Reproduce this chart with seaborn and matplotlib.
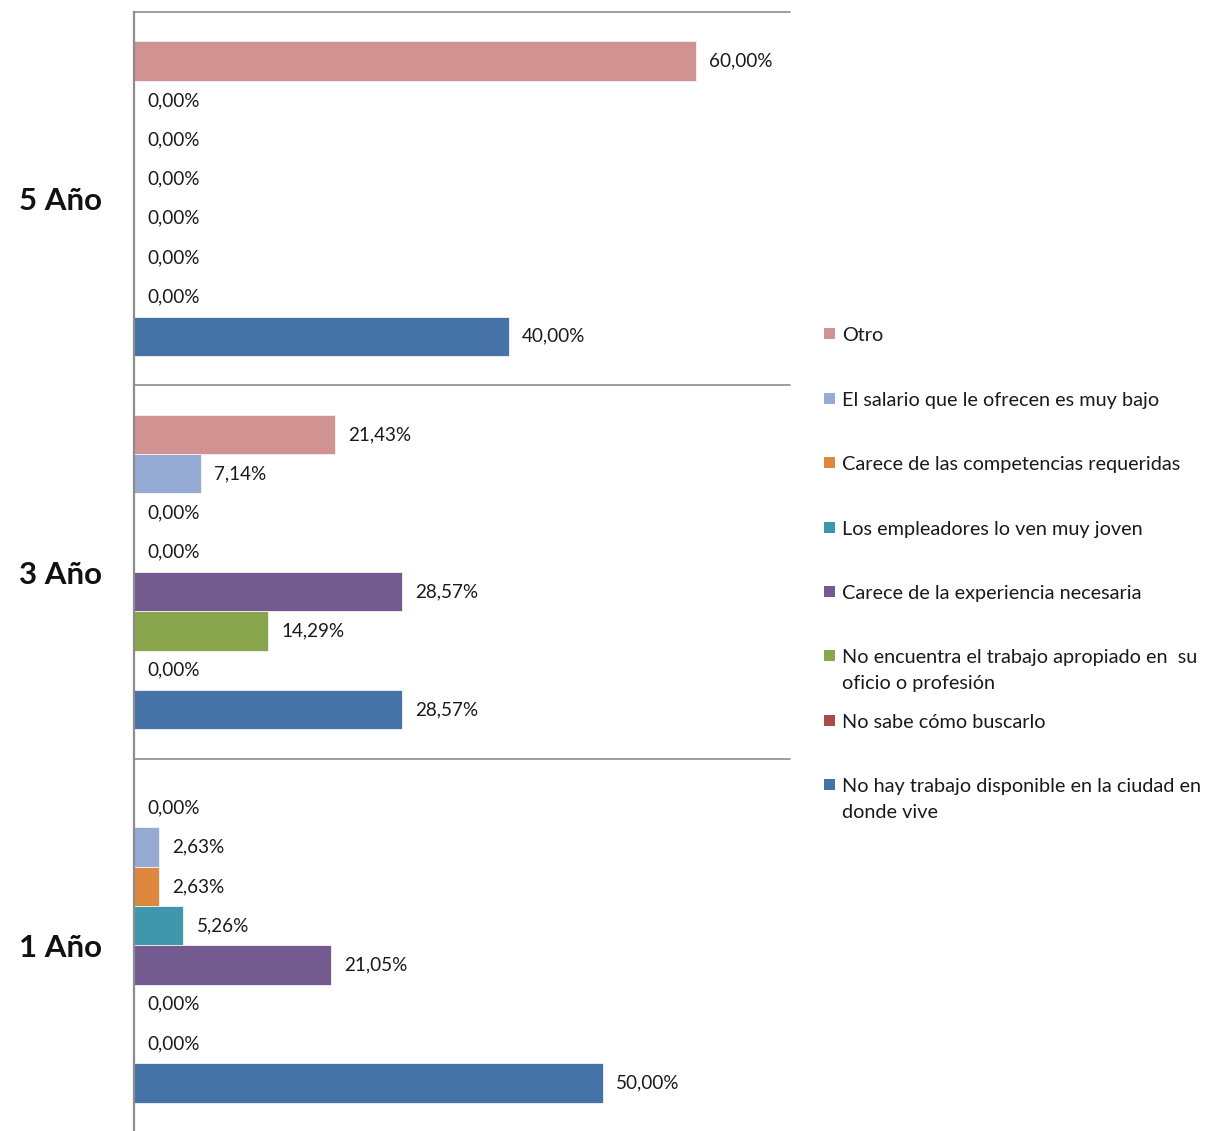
import matplotlib
matplotlib.use("Agg")
import matplotlib.pyplot as plt
import seaborn as sns
import pandas as pd
from matplotlib.patches import Rectangle

YEARS = ["5 Año", "3 Año", "1 Año"]
MOTIVOS = [
    "Otro",
    "El salario que le ofrecen es muy bajo",
    "Carece de las competencias requeridas",
    "Los empleadores lo ven muy joven",
    "Carece de la experiencia necesaria",
    "No encuentra el trabajo apropiado en  su\noficio o profesión",
    "No sabe cómo buscarlo",
    "No hay trabajo disponible en la ciudad en\ndonde vive",
]
COLORS = ["#D19392", "#95ABD3", "#DE873F", "#3F97AD",
          "#735A8F", "#89A54E", "#AC4A47", "#4673A7"]

# percentages per motivo, order follows YEARS
otro = [60.00, 21.43, 0.00]
salario = [0.00, 7.14, 2.63]
competencias = [0.00, 0.00, 2.63]
joven = [0.00, 0.00, 5.26]
experiencia = [0.00, 28.57, 21.05]
no_encuentra = [0.00, 14.29, 0.00]
no_sabe = [0.00, 0.00, 0.00]
no_hay = [40.00, 28.57, 50.00]

series = [otro, salario, competencias, joven, experiencia,
          no_encuentra, no_sabe, no_hay]

rows = []
for motivo, vals in zip(MOTIVOS, series):
    for year, v in zip(YEARS, vals):
        rows.append({"anio": year, "motivo": motivo, "valor": v})
df = pd.DataFrame(rows)

sns.set_style("white")
plt.rcParams["font.family"] = ["Lato", "DejaVu Sans"]

W, H = 1205, 1131
fig = plt.figure(figsize=(W / 100, H / 100), dpi=100)
ax = fig.add_axes([134 / W, -1 / H, (790 - 134) / W, 1120 / H])

sns.barplot(data=df, x="valor", y="anio", hue="motivo",
            order=YEARS, hue_order=MOTIVOS, palette=COLORS, saturation=1,
            orient="h", width=0.842, edgecolor="#f4f4f4", linewidth=0.6,
            legend=False, ax=ax)

ax.set_xlim(0, 70)
ax.set_ylim(2.5, -0.5)
ax.set_xlabel("")
ax.set_ylabel("")
ax.set_xticks([])

for cont, vals in zip(ax.containers, series):
    labels = [f"{v:.2f}".replace(".", ",") + "%" for v in vals]
    ax.bar_label(cont, labels=labels, padding=9.5, fontsize=13.6,
                 color="#1a1a1a")

grey = "#8c8c8c"
for b in [-0.5, 0.5, 1.5, 2.5]:
    ax.axhline(b, color=grey, lw=1.2, clip_on=False, zorder=0)

for s in ["top", "right", "bottom"]:
    ax.spines[s].set_visible(False)
ax.spines["left"].set_color(grey)
ax.spines["left"].set_linewidth(1.6)

ax.set_yticks(range(len(YEARS)))
ax.set_yticklabels(YEARS, fontsize=22.5, fontweight="bold", color="#111111")
ax.set_yticks([-0.5, 0.5, 1.5, 2.5], minor=True)
ax.tick_params(axis="y", which="major", length=0, pad=23)
ax.tick_params(axis="y", which="minor", length=7.5, width=1.2,
               color=grey, direction="out")

# legend
centers = [333, 398, 462, 527, 591, 655, 720, 784]
for motivo, color, cy in zip(MOTIVOS, COLORS, centers):
    fig.patches.append(Rectangle((824 / W, 1 - (cy + 5.5) / H), 11 / W, 11 / H,
                                 transform=fig.transFigure, facecolor=color,
                                 edgecolor="none"))
    fig.text(842 / W, 1 - (cy - 6) / H, motivo, fontsize=14.3, va="top",
             ha="left", linespacing=1.65, color="#1a1a1a")

fig.savefig("out.png", dpi=100)
